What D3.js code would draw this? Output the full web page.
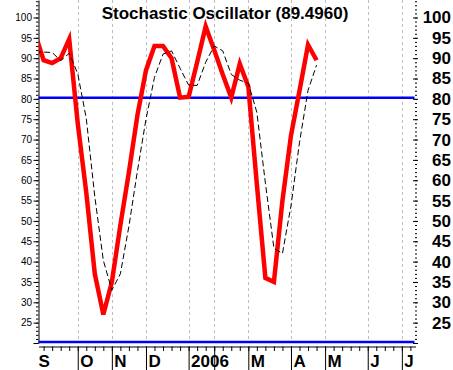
<!DOCTYPE html>
<html>
<head>
<meta charset="utf-8">
<script src="https://cdn.jsdelivr.net/npm/d3@7"></script>
<style>
  body { margin: 0; background: #fff; }
  text { font-family: "Liberation Sans", Arial, sans-serif; }
</style>
</head>
<body>
<div id="viz"></div>
<script>
// weekly stochastic oscillator, Sep 2005 - Jun 2006
const weeks = d3.range(-1, 33)
const pctK = [96, 89.5, 88.8, 90, 94.7, 74, 57, 37, 27, 35, 49, 62, 76, 87, 93, 93, 90, 80.3, 80.5, 89,
              97.8, 92, 86, 80.3, 88.6, 83, 59, 36, 35, 55, 71, 82, 93.3, 89.496]
const pctD = [91.5, 91.5, 91.4, 89.4, 91.2, 86.2, 75.2, 56, 40.3, 33, 37, 48.7, 62.3, 75, 85.3, 91, 91.8, 87.5, 83.4, 83.3,
              89, 93, 91.8, 86, 84.6, 83.8, 76.7, 59.3, 43.3, 42, 53.7, 69.3, 82.1, 88.3]

const monthLabels = ["S", "O", "N", "D", "2006", "", "M", "A", "M", "J", "J"]
const monthStarts = [-0.6, 4, 8, 12, 17, 20, 24, 29, 33, 38, 42]
const weekTicks = d3.range(0, 44)
const yLabels = [25, 30, 35, 40, 45, 50, 55, 60, 65, 70, 75, 80, 85, 90, 95, 100]
const levels = [80, 20]
const title = "Stochastic Oscillator (89.4960)"

const width = 453
const height = 370
const plot = {left: 38.5, right: 415.5, top: 0, bottom: 343}

const svg = d3.select("#viz")
    .append("svg")
    .attr("width", width)
    .attr("height", height)

const x = d3.scaleLinear().domain([-0.6, 43.6]).range([plot.left, plot.right])
const y = d3.scaleLinear().domain([20, 104.3]).range([plot.bottom, plot.top])

// vertical dashed grid at month starts
svg.append("g")
    .selectAll("line")
    .data(monthStarts.slice(1))
    .enter()
    .append("line")
    .attr("x1", d => Math.round(x(d)) + 0.5)
    .attr("x2", d => Math.round(x(d)) + 0.5)
    .attr("y1", 0)
    .attr("y2", plot.bottom)
    .style("stroke", "#bdbdbd")
    .style("stroke-dasharray", "3,3")

// title
svg.append("text")
    .attr("x", 225)
    .attr("y", 19)
    .attr("text-anchor", "middle")
    .style("font-size", "17px")
    .style("font-weight", "bold")
    .text(title)

// left axis: minor and major ticks
const yMinor = d3.range(20, 105)
const yMajor = d3.range(20, 105, 5)
svg.append("g")
    .attr("transform", "translate(" + plot.left + ",0)")
    .call(d3.axisLeft(y).tickValues(yMinor).tickSize(2.5).tickFormat("").tickSizeOuter(0))
svg.append("g")
    .attr("transform", "translate(" + plot.left + ",0)")
    .call(d3.axisLeft(y).tickValues(yMajor).tickSize(5).tickFormat(d => yLabels.includes(d) ? d : "").tickSizeOuter(0))
    .call(g => g.select(".domain").remove())
    .selectAll("text")
    .attr("x", -6.5)
    .style("font-family", "'Liberation Sans', Arial, sans-serif")
    .style("font-size", "10px")

// right axis: ticks and bold labels, no line
svg.append("g")
    .attr("transform", "translate(415,0)")
    .call(d3.axisRight(y).tickValues(yMinor).tickSize(2).tickFormat(""))
    .call(g => g.select(".domain").remove())
svg.append("g")
    .attr("transform", "translate(413,0)")
    .call(d3.axisRight(y).tickValues(yMajor).tickSize(5).tickFormat(d => yLabels.includes(d) ? d : ""))
    .call(g => g.select(".domain").remove())
    .selectAll("text")
    .attr("x", 38)
    .attr("text-anchor", "end")
    .style("font-family", "'Liberation Sans', Arial, sans-serif")
    .style("font-size", "17px")
    .style("font-weight", "bold")

// bottom axis: weekly ticks, long month ticks
svg.append("g")
    .attr("transform", "translate(0,346.5)")
    .call(d3.axisBottom(x).tickValues(weekTicks).tickSize(4.5).tickFormat("").tickSizeOuter(0))
svg.append("g")
    .attr("transform", "translate(0,346.5)")
    .call(d3.axisBottom(x).tickValues(monthStarts.slice(1)).tickSize(24).tickFormat(""))
    .call(g => g.select(".domain").remove())

svg.append("g")
    .selectAll("text")
    .data(monthStarts)
    .enter()
    .append("text")
    .attr("x", (d, i) => i == 0 ? x(d) : x(d) + 2.5)
    .attr("y", 367)
    .style("font-size", "17px")
    .style("font-weight", "bold")
    .text((d, i) => monthLabels[i])

// horizontal blue levels
svg.append("g")
    .selectAll("line")
    .data(levels)
    .enter()
    .append("line")
    .attr("x1", plot.left)
    .attr("x2", plot.right - 1)
    .attr("y1", d => y(d) - 1)
    .attr("y2", d => y(d) - 1)
    .style("stroke", "#0000ff")
    .style("stroke-width", 2.5)

// clip lines to plot area
svg.append("clipPath")
    .attr("id", "plotclip")
    .append("rect")
    .attr("x", plot.left + 0.5)
    .attr("y", 0)
    .attr("width", plot.right - plot.left)
    .attr("height", plot.bottom)

const lineK = d3.line()
    .x((d, i) => x(weeks[i]))
    .y(d => y(d))

svg.append("path")
    .datum(pctK)
    .attr("clip-path", "url(#plotclip)")
    .attr("d", lineK)
    .style("fill", "none")
    .style("stroke", "#ff0000")
    .style("stroke-width", 4.5)
    .style("stroke-linejoin", "miter")

svg.append("path")
    .datum(pctD)
    .attr("clip-path", "url(#plotclip)")
    .attr("d", lineK)
    .style("fill", "none")
    .style("stroke", "#000")
    .style("stroke-width", 1)
    .style("stroke-dasharray", "6,3")
</script>
</body>
</html>
